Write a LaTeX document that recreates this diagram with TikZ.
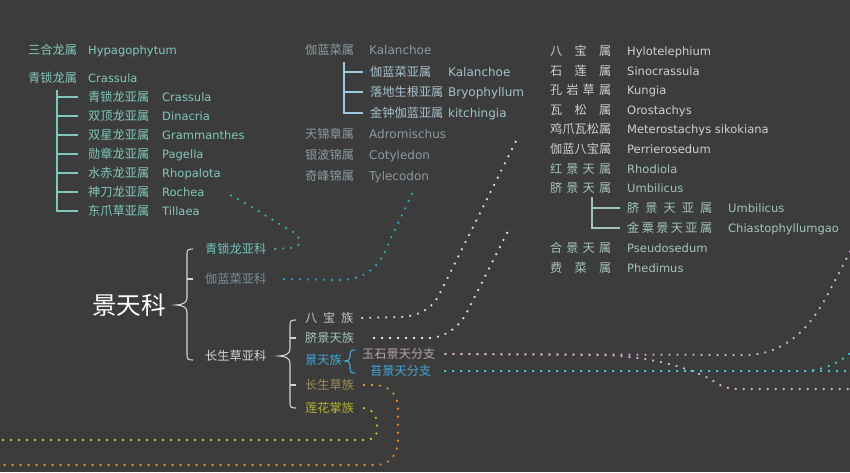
\documentclass[tikz,border=0pt]{standalone}
\usepackage{fontspec}
\setmainfont{DejaVu Sans}
\newfontfamily\cjk{Noto Sans CJK SC}
\definecolor{bg}{HTML}{3C3C3C}
\definecolor{lcol}{HTML}{80C8BC}
\definecolor{midg}{HTML}{8A9AA2}
\definecolor{mids}{HTML}{A4C0CC}
\definecolor{midl}{HTML}{9CCBE0}
\definecolor{rgray}{HTML}{D0D0D0}
\definecolor{rgreen}{HTML}{A2C4B6}
\definecolor{sfteal}{HTML}{6EC8BE}
\definecolor{sfgray}{HTML}{7A8E98}
\definecolor{sfwhite}{HTML}{D4D4D4}
\definecolor{trgray}{HTML}{C4C4C4}
\definecolor{trblue}{HTML}{3FA9D6}
\definecolor{trtan}{HTML}{A08A5A}
\definecolor{trolive}{HTML}{B4B432}
\definecolor{brpink}{HTML}{B8A2AA}
\definecolor{dteal}{HTML}{2EB4A8}
\definecolor{dblue}{HTML}{30A8C8}
\definecolor{dwhite}{HTML}{E0E0E0}
\definecolor{dpink}{HTML}{E0B0E0}
\definecolor{dcyan}{HTML}{40C8D8}
\definecolor{dorange}{HTML}{E89030}
\definecolor{dyellow}{HTML}{D0D020}
\begin{document}
\begin{tikzpicture}[x=1pt,y=-1pt,
  txt/.style={anchor=west, inner sep=0pt, text height=10pt, text depth=2pt, font=\cjk\fontsize{12.2}{14}\selectfont},
  lat/.style={anchor=west, inner sep=0pt, text height=10pt, text depth=2pt, font=\fontsize{11.5}{14}\selectfont},
  latm/.style={lat, font=\fontsize{12}{14}\selectfont},
  brk/.style={line width=1.1pt},
  dots/.style={line width=1.8pt, dash pattern=on 1.8pt off 6.2pt}]
\useasboundingbox (0,0) rectangle (850,472);
\fill[bg] (0,0) rectangle (850,472);

% ---------- left column ----------
\node[txt, text=lcol] (shl) at (28,50) {三合龙属};
\node[lat, text=lcol] (shlL) at (88,50) {Hypagophytum};
\node[txt, text=lcol] (qsl) at (28,78) {青锁龙属};
\node[lat, text=lcol] (qslL) at (88,78) {Crassula};
\node[txt, text=lcol] (s1) at (88,97) {青锁龙亚属};
\node[lat, text=lcol] (s1L) at (162,97) {Crassula};
\node[txt, text=lcol] (s2) at (88,116) {双顶龙亚属};
\node[lat, text=lcol] (s2L) at (162,116) {Dinacria};
\node[txt, text=lcol] (s3) at (88,135) {双星龙亚属};
\node[lat, text=lcol] (s3L) at (162,135) {Grammanthes};
\node[txt, text=lcol] (s4) at (88,154) {勋章龙亚属};
\node[lat, text=lcol] (s4L) at (162,154) {Pagella};
\node[txt, text=lcol] (s5) at (88,173) {水赤龙亚属};
\node[lat, text=lcol] (s5L) at (162,173) {Rhopalota};
\node[txt, text=lcol] (s6) at (88,192) {神刀龙亚属};
\node[lat, text=lcol] (s6L) at (162,192) {Rochea};
\node[txt, text=lcol] (s7) at (88,211) {东爪草亚属};
\node[lat, text=lcol] (s7L) at (162,211) {Tillaea};
\draw[brk, lcol] (57,90) |- ([xshift=-10pt]s7.west);
\foreach \n in {s1,s2,s3,s4,s5,s6}
  \draw[brk, lcol] ([xshift=-31pt]\n.west) -- ([xshift=-10pt]\n.west);

% ---------- middle column ----------
\node[txt, text=midg] (kal) at (305,50) {伽蓝菜属};
\node[latm, text=midg] (kalL) at (369,50) {Kalanchoe};
\node[txt, text=mids] (m1) at (370,72) {伽蓝菜亚属};
\node[latm, text=mids] (m1L) at (448,72) {Kalanchoe};
\node[txt, text=mids] (m2) at (370,92) {落地生根亚属};
\node[latm, text=mids] (m2L) at (448,92) {Bryophyllum};
\node[txt, text=mids] (m3) at (370,113) {金钟伽蓝亚属};
\node[latm, text=mids] (m3L) at (448,113) {kitchingia};
\draw[brk, midl] (344,62) |- ([xshift=-7pt]m3.west);
\foreach \n in {m1,m2}
  \draw[brk, midl] ([xshift=-26pt]\n.west) -- ([xshift=-7pt]\n.west);
\node[txt, text=midg] (adr) at (305,134) {天锦章属};
\node[latm, text=midg] (adrL) at (369,134) {Adromischus};
\node[txt, text=midg] (cot) at (305,155) {银波锦属};
\node[latm, text=midg] (cotL) at (369,155) {Cotyledon};
\node[txt, text=midg] (tyl) at (305,176) {奇峰锦属};
\node[latm, text=midg] (tylL) at (369,176) {Tylecodon};

% ---------- right column ----------
\node[txt, text=rgray] (r1) at (550,51) {\makebox[61pt][s]{八\hfill{}宝\hfill{}属}};
\node[lat, text=rgray] (r1L) at (627,51) {Hylotelephium};
\node[txt, text=rgray] (r2) at (550,71) {\makebox[61pt][s]{石\hfill{}莲\hfill{}属}};
\node[lat, text=rgray] (r2L) at (627,71) {Sinocrassula};
\node[txt, text=rgray] (r3) at (550,90) {\makebox[61pt][s]{孔\hfill{}岩\hfill{}草\hfill{}属}};
\node[lat, text=rgray] (r3L) at (627,90) {Kungia};
\node[txt, text=rgray] (r4) at (550,110) {\makebox[61pt][s]{瓦\hfill{}松\hfill{}属}};
\node[lat, text=rgray] (r4L) at (627,110) {Orostachys};
\node[txt, text=rgray] (r5) at (550,129) {\makebox[61pt][s]{鸡\hfill{}爪\hfill{}瓦\hfill{}松\hfill{}属}};
\node[lat, text=rgray] (r5L) at (627,129) {Meterostachys sikokiana};
\node[txt, text=rgray] (r6) at (550,149) {\makebox[61pt][s]{伽\hfill{}蓝\hfill{}八\hfill{}宝\hfill{}属}};
\node[lat, text=rgray] (r6L) at (627,149) {Perrierosedum};
\node[txt, text=rgreen] (r7) at (550,169) {\makebox[61pt][s]{红\hfill{}景\hfill{}天\hfill{}属}};
\node[lat, text=rgreen] (r7L) at (627,169) {Rhodiola};
\node[txt, text=rgreen] (r8) at (550,188) {\makebox[61pt][s]{脐\hfill{}景\hfill{}天\hfill{}属}};
\node[lat, text=rgreen] (r8L) at (627,188) {Umbilicus};
\node[txt, text=rgreen] (r8a) at (627,208) {\makebox[85pt][s]{脐\hfill{}景\hfill{}天\hfill{}亚\hfill{}属}};
\node[lat, text=rgreen] (r8aL) at (728,208) {Umbilicus};
\node[txt, text=rgreen] (r8b) at (627,228) {\makebox[85pt][s]{金\hfill{}粟\hfill{}景\hfill{}天\hfill{}亚\hfill{}属}};
\node[lat, text=rgreen] (r8bL) at (728,228) {Chiastophyllumgao};
\draw[brk, rgreen] (592,197) |- ([xshift=-7pt]r8b.west);
\draw[brk, rgreen] ([xshift=-35pt]r8a.west) -- ([xshift=-7pt]r8a.west);
\node[txt, text=rgreen] (r9) at (550,248) {\makebox[61pt][s]{合\hfill{}景\hfill{}天\hfill{}属}};
\node[lat, text=rgreen] (r9L) at (627,248) {Pseudosedum};
\node[txt, text=rgreen] (r10) at (550,268) {\makebox[61pt][s]{费\hfill{}菜\hfill{}属}};
\node[lat, text=rgreen] (r10L) at (627,268) {Phedimus};

% ---------- family / subfamilies ----------
\node[anchor=west, inner sep=0pt, text=white, font=\cjk\fontsize{24.5}{26}\selectfont] (fam) at (92,305) {景天科};
\node[txt, text=sfteal] (sf1) at (205,249) {青锁龙亚科};
\node[txt, text=sfgray] (sf2) at (205,279) {伽蓝菜亚科};
\node[txt, text=sfwhite] (sf3) at (205,356) {长生草亚科};
\draw[brk, sfwhite] (193,249) .. controls (188,249) and (187,250) .. (187,254) -- (187,298)
   .. controls (187,302) and (183,305) .. (176,305) .. controls (183,305) and (187,308) .. (187,312)
   -- (187,355) .. controls (187,359) and (188,360) .. (193,360);
\draw[brk, sfwhite] (187,279) -- (193,279);

% ---------- tribes ----------
\node[txt, text=trgray] (t1) at (305,318) {\makebox[48pt][s]{八\hfill{}宝\hfill{}族}};
\node[txt, text=rgreen] (t2) at (305,338) {脐景天族};
\node[txt, text=trblue] (t3) at (305,360) {景天族};
\node[txt, text=trtan] (t4) at (305,385) {长生草族};
\node[txt, text=trolive] (t5) at (305,408) {莲花掌族};
\draw[brk, sfwhite] (296,320) .. controls (291,320) and (290,321) .. (290,325) -- (290,349)
   .. controls (290,353) and (286,356) .. (279,356) .. controls (286,356) and (290,359) .. (290,363)
   -- (290,403) .. controls (290,407) and (291,408) .. (296,408);
\foreach \yy in {338,385}
  \draw[brk, sfwhite] (290,\yy) -- (296,\yy);

\node[txt, text=brpink] (b1) at (362,354) {玉石景天分支};
\node[txt, text=trblue] (b2) at (370,371) {苔景天分支};
\draw[brk, trblue] (355,350) .. controls (351,350) and (350,351) .. (350,354) -- (350,357)
   .. controls (350,360) and (348,361) .. (345,361) .. controls (348,361) and (350,362) .. (350,365)
   -- (350,369) .. controls (350,372) and (351,373) .. (355,373);

% ---------- dotted connectors ----------
\coordinate (e1) at (230,195);
\coordinate (e2) at (413,192);
\coordinate (e3) at (518,137);
\coordinate (e4) at (508,231);
\coordinate (e5) at (853,246);
\coordinate (e6) at (853,389);
\coordinate (e7) at (853,371);
\coordinate (e8) at (853,351);
\coordinate (e9) at (-3,465);
\coordinate (e10) at (-3,440);

\draw[dots, dteal] ([xshift=8pt]sf1.east) -- (290,248) .. controls (304,248) and (302,236) .. (290,230)
   .. controls (270,219) and (250,205) .. (e1);
\draw[dots, dblue] ([xshift=17pt]sf2.east) -- (340,280) .. controls (370,280) and (383,260) .. (390,240) -- (e2);
\draw[dots, dwhite] ([xshift=8pt]t1.east) -- (400,317) .. controls (418,316) and (430,310) .. (438,297) -- (e3);
\draw[dots, dwhite] ([xshift=19pt]t2.east) -- (430,338) .. controls (445,337) and (458,328) .. (466,314) -- (e4);
\draw[dots, dpink] ([xshift=9pt]b1.east) -- (745,355) .. controls (790,355) and (815,320) .. (830,290) -- (e5);
\draw[dots, dpink] ([xshift=9pt]b1.east) -- (600,355) .. controls (650,356) and (690,368) .. (712,380)
   .. controls (722,387) and (728,389) .. (740,389) -- (e6);
\draw[dots, dcyan] ([xshift=13pt]b2.east) -- (e7);
\draw[dots, dcyan] ([xshift=13pt]b2.east) -- (805,371) .. controls (825,370) and (840,362) .. (e8);
\draw[dots, dorange] ([xshift=9pt]t4.east) -- (375,385) .. controls (392,386) and (398,396) .. (398,410)
   -- (398,438) .. controls (398,455) and (390,465) .. (375,465) -- (e9);
\draw[dots, dyellow] ([xshift=9pt]t5.east) .. controls (372,409) and (377,415) .. (377,425) -- (377,430)
   .. controls (377,437) and (372,440) .. (365,440) -- (e10);
\end{tikzpicture}
\end{document}
